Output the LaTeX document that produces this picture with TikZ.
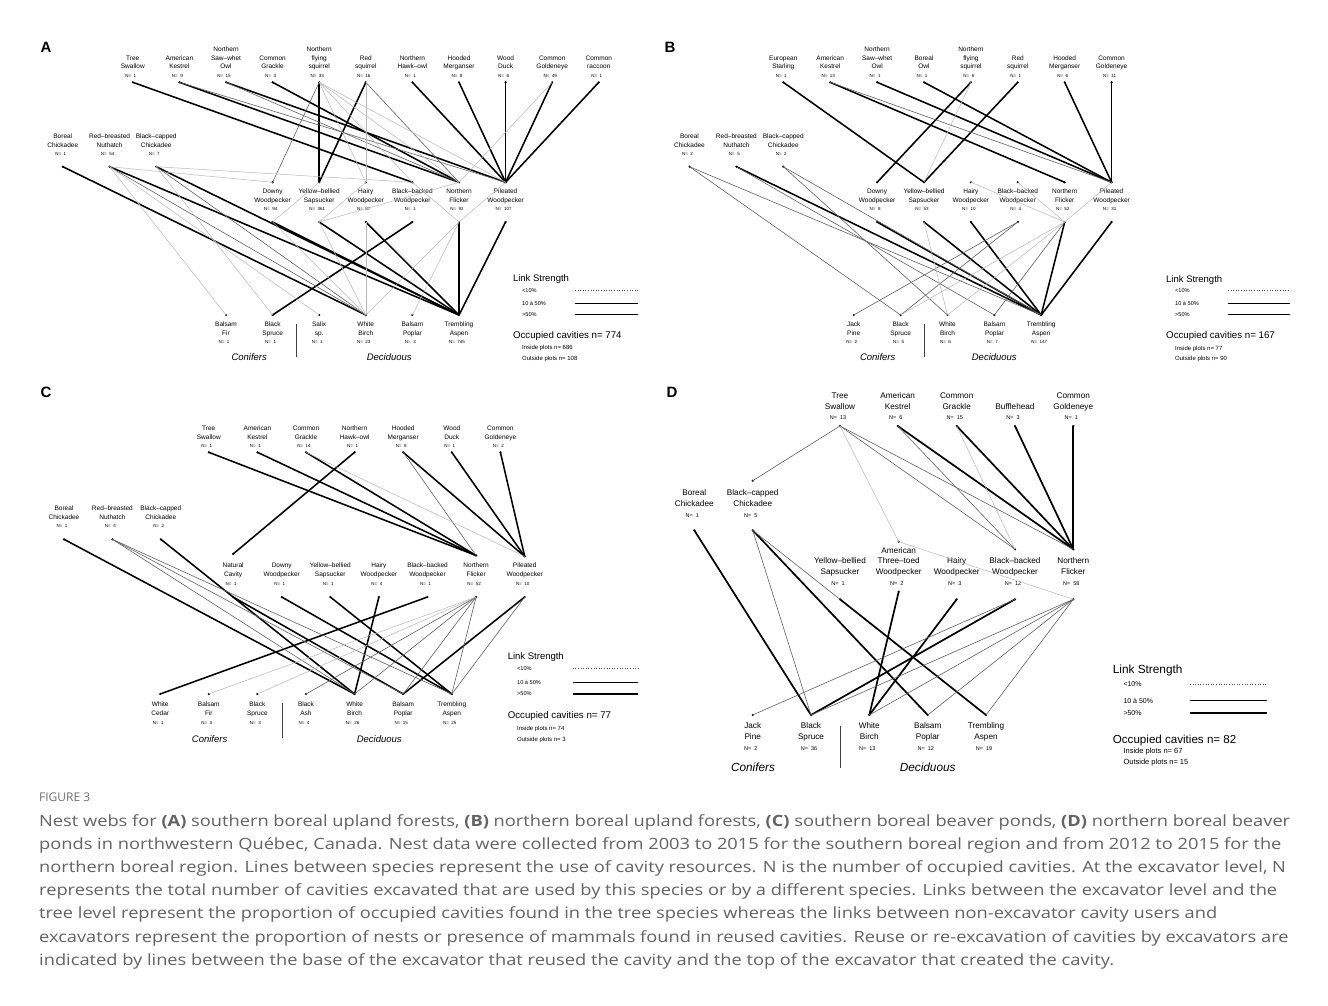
\documentclass[tikz,border=0pt]{standalone}
\usepackage{fontspec}
\setmainfont{Liberation Sans}
\newfontfamily\capfont{Open Sans}
\usepackage{graphicx}
\definecolor{capgray}{HTML}{636363}
\definecolor{figgray}{HTML}{707070}
\newcommand\labfont{\fontsize{6.5}{8.7}\selectfont}
\newcommand\nfont{\fontsize{4.5}{5}\selectfont}
\newcommand\capsize{\capfont\fontsize{15.5}{18}\selectfont}
\newcommand\stk[1]{\begin{tabular}[b]{@{}c@{}}#1\end{tabular}}
\newlength\cwid
\newcommand\capone{Nest webs for {\bfseries (A)} southern boreal upland forests, {\bfseries (B)} northern boreal upland forests, {\bfseries (C)} southern boreal beaver ponds, {\bfseries (D)} northern boreal beaver}
\newcommand\capline[1]{\scalebox{\capfac}[1]{#1}}
\newcommand\mkuser[7]{%
  \node[lbl] (#1-l) at (#2,#3) {\stk{#4}};
  \node[nl] (#1-n) at (#2-2,#5) {N=\ \ #6};
  \node[dot] (#1) at (#2,#7) {};}
\newcommand\mkexc[7]{%
  \node[lbl] (#1-l) at (#2,#3) {\stk{#4}};
  \node[nl] (#1-n) at (#2-2,#5) {N=\ \ #6};
  \node[dot] (#1-b) at (#2,#7) {};}
\newcommand\mktop[3]{\node[dot] (#1-t) at (#2,#3) {};}
\newcommand\mktree[7]{%
  \node[dot] (#1) at (#2,#3) {};
  \node[lbl] (#1-l) at (#2,#4) {\stk{#5}};
  \node[nl] (#1-n) at (#2-2,#6) {N=\ \ #7};}
\tikzset{
  lbl/.style={font=\labfont, anchor=base, inner sep=0pt},
  nl/.style={font=\nfont, anchor=base, inner sep=0pt},
  dot/.style={circle, fill=black, inner sep=0pt, minimum size=2.4pt},
  strong/.style={line width=1.55pt, black},
  mid/.style={line width=0.6pt, black!62},
  weak/.style={line width=0.5pt, black!28},
  lgweak/.style={line width=0.6pt, black!70, dotted},
  lgmid/.style={line width=0.7pt, black},
  lgstrong/.style={line width=1.5pt, black},
  plet/.style={font=\fontsize{15}{17}\selectfont\bfseries, inner sep=0pt},
  grp/.style={font=\fontsize{9.5}{11}\selectfont\itshape, inner sep=0pt},
  lgt/.style={font=\fontsize{9.5}{11}\selectfont, anchor=west, inner sep=0pt},
  lgc/.style={font=\fontsize{9.7}{11}\selectfont, anchor=west, inner sep=0pt},
  lgs/.style={font=\fontsize{5.6}{7}\selectfont, anchor=west, inner sep=0pt},
  lgp/.style={font=\fontsize{6}{7}\selectfont, anchor=west, inner sep=0pt},
  divl/.style={line width=0.6pt, black!75},
  capn/.style={font=\capsize, text=capgray, anchor=base west, inner sep=0pt},
  fign/.style={font=\capfont\fontsize{12}{14}\selectfont, text=figgray, anchor=base west, inner sep=0pt}
}
\begin{document}
\settowidth{\cwid}{\capsize\capone}%
\pgfmathsetmacro\capfac{1251pt/\cwid}%
\begin{tikzpicture}[x=1pt,y=-1pt]
\useasboundingbox (0,0) rectangle (1328,1006);
\fill[white] (0,0) rectangle (1328,1006);

% ================= Panel A =================
\node[plet] (pA) at (46,47) {A};
\mkuser{ats}{132.8}{69}{Tree\\Swallow}{77.3}{1}{82.3}
\mkuser{aak}{179.4}{69}{American\\Kestrel}{77.3}{9}{82.3}
\mkuser{anso}{226}{69}{Northern\\Saw–whet\\Owl}{77.3}{15}{82.3}
\mkuser{acg}{272.6}{69}{Common\\Grackle}{77.3}{3}{82.3}
\mkuser{anfs}{319.2}{69}{Northern\\flying\\squirrel}{77.3}{33}{82.3}
\mkuser{ars}{365.8}{69}{Red\\squirrel}{77.3}{16}{82.3}
\mkuser{anho}{412.4}{69}{Northern\\Hawk–owl}{77.3}{1}{82.3}
\mkuser{ahm}{459}{69}{Hooded\\Merganser}{77.3}{8}{82.3}
\mkuser{awd}{505.6}{69}{Wood\\Duck}{77.3}{6}{82.3}
\mkuser{acge}{552.2}{69}{Common\\Goldeneye}{77.3}{49}{82.3}
\mkuser{acr}{598.8}{69}{Common\\raccoon}{77.3}{1}{82.3}
\mkuser{abc}{62.8}{147.3}{Boreal\\Chickadee}{155.6}{1}{166.7}
\mkuser{arbn}{109.6}{147.3}{Red–breasted\\Nuthatch}{155.6}{54}{166.7}
\mkuser{abcc}{156.2}{147.3}{Black–capped\\Chickadee}{155.6}{7}{166.7}
\mkexc{adw}{272.6}{202.3}{Downy\\Woodpecker}{210.6}{94}{222}
\mkexc{aybs}{319.2}{202.3}{Yellow–bellied\\Sapsucker}{210.6}{361}{222}
\mkexc{ahw}{365.8}{202.3}{Hairy\\Woodpecker}{210.6}{87}{222}
\mkexc{abbw}{412.4}{202.3}{Black–backed\\Woodpecker}{210.6}{1}{222}
\mkexc{anf}{459}{202.3}{Northern\\Flicker}{210.6}{92}{222}
\mkexc{apw}{505.6}{202.3}{Pileated\\Woodpecker}{210.6}{107}{222}
\mktop{adw}{272.6}{182.3}\mktop{aybs}{319.2}{182.3}\mktop{ahw}{365.8}{182.3}
\mktop{abbw}{412.4}{182.3}\mktop{anf}{459}{182.3}\mktop{apw}{505.6}{182.3}
\mktree{abf}{226}{315}{335.3}{Balsam\\Fir}{343.6}{1}
\mktree{abs}{272.6}{315}{335.3}{Black\\Spruce}{343.6}{1}
\mktree{asx}{319.2}{315}{335.3}{Salix\\sp.}{343.6}{1}
\mktree{awb}{365.8}{315}{335.3}{White\\Birch}{343.6}{23}
\mktree{abp}{412.4}{315}{335.3}{Balsam\\Poplar}{343.6}{3}
\mktree{ata}{459}{315}{335.3}{Trembling\\Aspen}{343.6}{745}
\coordinate (adiv1) at (296,324); \coordinate (adiv2) at (296,357);
\draw[divl] (adiv1) -- (adiv2);
\node[grp] (acon) at (249.2,357.3) {Conifers};
\node[grp] (adec) at (389.2,357.3) {Deciduous};
\foreach \p/\q in {ats/abbw-t, aak/anf-t, anso/apw-t, acg/anf-t, anfs/aybs-t, ars/aybs-t, anho/apw-t, ahm/apw-t, awd/apw-t, acge/apw-t, acr/apw-t, abc/awb, arbn/ata, abcc/ata, adw-b/ata, aybs-b/ata, ahw-b/ata, abbw-b/abs, anf-b/ata, apw-b/ata}
  \draw[strong] (\p.center) -- (\q.center);
\foreach \p/\q in {aak/apw-t, anso/anf-t, ars/anf-t, arbn/awb, abcc/awb, anfs/adw-t}
  \draw[mid] (\p.center) -- (\q.center);
\foreach \p/\q in {anfs/ahw-t, anfs/anf-t, anfs/apw-t, anfs/abbw-t, ars/ahw-t, acge/anf-t, arbn/abf, arbn/asx, arbn/adw-t, abcc/abbw-t, abcc/abs, adw-b/awb, aybs-b/awb, ahw-b/awb, anf-b/awb, anf-b/abp, adw-b/aybs-t, aybs-b/ahw-t, aybs-b/anf-t, anf-b/apw-t, abbw-t/anf-b}
  \draw[weak] (\p.center) -- (\q.center);
% legend A
\node[lgt] (alt) at (512.8,279) {Link Strength};
\node[lgs] (al1) at (522,290.3) {<10\%};
\node[lgs] (al2) at (522,303.7) {10 à 50\%};
\node[lgs] (al3) at (522,314.7) {>50\%};
\coordinate (al1a) at (575,290.3); \coordinate (al1b) at (638,290.3);
\coordinate (al2a) at (575,303.7); \coordinate (al2b) at (638,303.7);
\coordinate (al3a) at (575,314.7); \coordinate (al3b) at (638,314.7);
\draw[lgweak] (al1a) -- (al1b); \draw[lgmid] (al2a) -- (al2b); \draw[lgstrong] (al3a) -- (al3b);
\node[lgc] (aoc) at (512.8,336.3) {Occupied cavities n= 774};
\node[lgp] (ain) at (522,347.7) {Inside plots n= 686};
\node[lgp] (aout) at (522,359) {Outside plots n= 108};

% ================= Panel B =================
\node[plet] (pB) at (670,47) {B};
\mkuser{bes}{783.3}{69}{European\\Starling}{77.3}{1}{82.3}
\mkuser{bak}{830.2}{69}{American\\Kestrel}{77.3}{13}{82.3}
\mkuser{bnso}{877.1}{69}{Northern\\Saw–whet\\Owl}{77.3}{1}{82.3}
\mkuser{bbo}{924}{69}{Boreal\\Owl}{77.3}{1}{82.3}
\mkuser{bnfs}{970.9}{69}{Northern\\flying\\squirrel}{77.3}{6}{82.3}
\mkuser{brs}{1017.8}{69}{Red\\squirrel}{77.3}{1}{82.3}
\mkuser{bhm}{1064.7}{69}{Hooded\\Merganser}{77.3}{6}{82.3}
\mkuser{bcge}{1111.6}{69}{Common\\Goldeneye}{77.3}{11}{82.3}
\mkuser{bbc}{689.5}{147.3}{Boreal\\Chickadee}{155.6}{2}{166.7}
\mkuser{brbn}{736.4}{147.3}{Red–breasted\\Nuthatch}{155.6}{5}{166.7}
\mkuser{bbcc}{783.3}{147.3}{Black–capped\\Chickadee}{155.6}{2}{166.7}
\mkexc{bdw}{877.1}{202.3}{Downy\\Woodpecker}{210.6}{8}{222}
\mkexc{bybs}{924}{202.3}{Yellow–bellied\\Sapsucker}{210.6}{53}{222}
\mkexc{bhw}{970.9}{202.3}{Hairy\\Woodpecker}{210.6}{10}{222}
\mkexc{bbbw}{1017.8}{202.3}{Black–backed\\Woodpecker}{210.6}{4}{222}
\mkexc{bnf}{1064.7}{202.3}{Northern\\Flicker}{210.6}{52}{222}
\mkexc{bpw}{1111.6}{202.3}{Pileated\\Woodpecker}{210.6}{31}{222}
\mktop{bdw}{877.1}{182.3}\mktop{bybs}{924}{182.3}\mktop{bhw}{970.9}{182.3}
\mktop{bbbw}{1017.8}{182.3}\mktop{bnf}{1064.7}{182.3}\mktop{bpw}{1111.6}{182.3}
\mktree{bjp}{853.7}{315}{335.3}{Jack\\Pine}{343.6}{2}
\mktree{bbs}{900.6}{315}{335.3}{Black\\Spruce}{343.6}{5}
\mktree{bwb}{947.5}{315}{335.3}{White\\Birch}{343.6}{6}
\mktree{bbp}{994.4}{315}{335.3}{Balsam\\Poplar}{343.6}{7}
\mktree{bta}{1041.2}{315}{335.3}{Trembling\\Aspen}{343.6}{147}
\coordinate (bdiv1) at (924.3,324); \coordinate (bdiv2) at (924.3,357);
\draw[divl] (bdiv1) -- (bdiv2);
\node[grp] (bcon) at (877.7,357.3) {Conifers};
\node[grp] (bdec) at (994.3,357.3) {Deciduous};
\foreach \p/\q in {bes/bybs-t, bak/bnf-t, bnso/bpw-t, bbo/bpw-t, bnfs/bdw-t, brs/bybs-t, bhm/bpw-t, bcge/bpw-t, brbn/bta, bdw-b/bta, bybs-b/bta, bhw-b/bta, bnf-b/bta, bpw-b/bta}
  \draw[strong] (\p.center) -- (\q.center);
\foreach \p/\q in {bak/bpw-t, bbc/bbs, bbc/bta, brbn/bbp, bbcc/bwb, bbcc/bta, bbbw-b/bjp, bbbw-b/bbs, bnf-b/bbp}
  \draw[mid] (\p.center) -- (\q.center);
\foreach \p/\q in {bnfs/bybs-t, bybs-b/bwb, bnf-b/bbs, bnf-b/bwb, bhw-t/bnf-b, bbbw-t/bnf-b, bnf-b/bpw-t}
  \draw[weak] (\p.center) -- (\q.center);
\node[lgt] (blt) at (1166,280) {Link Strength};
\node[lgs] (bl1) at (1175,290.7) {<10\%};
\node[lgs] (bl2) at (1175,303.7) {10 à 50\%};
\node[lgs] (bl3) at (1175,314.3) {>50\%};
\coordinate (bl1a) at (1228,290.7); \coordinate (bl1b) at (1290,290.7);
\coordinate (bl2a) at (1228,303.7); \coordinate (bl2b) at (1290,303.7);
\coordinate (bl3a) at (1228,314.3); \coordinate (bl3b) at (1290,314.3);
\draw[lgweak] (bl1a) -- (bl1b); \draw[lgmid] (bl2a) -- (bl2b); \draw[lgstrong] (bl3a) -- (bl3b);
\node[lgc] (boc) at (1166,336) {Occupied cavities n= 167};
\node[lgp] (bin) at (1175,349) {Inside plots n= 77};
\node[lgp] (bout) at (1175,359.3) {Outside plots n= 90};

% ================= Panel C =================
\node[plet] (pC) at (46,392.5) {C};
\mkuser{cts}{208.8}{439}{Tree\\Swallow}{447.3}{1}{452.3}
\mkuser{cak}{257.4}{439}{American\\Kestrel}{447.3}{1}{452.3}
\mkuser{ccg}{306}{439}{Common\\Grackle}{447.3}{14}{452.3}
\mkuser{cnho}{354.6}{439}{Northern\\Hawk–owl}{447.3}{1}{452.3}
\mkuser{chm}{403.2}{439}{Hooded\\Merganser}{447.3}{8}{452.3}
\mkuser{cwd}{451.8}{439}{Wood\\Duck}{447.3}{1}{452.3}
\mkuser{ccge}{500.4}{439}{Common\\Goldeneye}{447.3}{2}{452.3}
\mkuser{cbc}{64}{519.3}{Boreal\\Chickadee}{527.6}{1}{539.3}
\mkuser{crbn}{112.4}{519.3}{Red–breasted\\Nuthatch}{527.6}{4}{539.3}
\mkuser{cbcc}{160.8}{519.3}{Black–capped\\Chickadee}{527.6}{2}{539.3}
\mkexc{cnc}{233.1}{576.3}{Natural\\Cavity}{585}{1}{597}
\mkexc{cdw}{281.7}{576.3}{Downy\\Woodpecker}{585}{1}{597}
\mkexc{cybs}{330.3}{576.3}{Yellow–bellied\\Sapsucker}{585}{1}{597}
\mkexc{chw}{378.9}{576.3}{Hairy\\Woodpecker}{585}{4}{597}
\mkexc{cbbw}{427.5}{576.3}{Black–backed\\Woodpecker}{585}{1}{597}
\mkexc{cnf}{476.1}{576.3}{Northern\\Flicker}{585}{52}{597}
\mkexc{cpw}{524.7}{576.3}{Pileated\\Woodpecker}{585}{10}{597}
\mktop{cnc}{233.1}{554}\mktop{cnf}{476.1}{555.5}\mktop{cpw}{524.7}{556.5}
\mktree{cwc}{160.2}{694}{715}{White\\Cedar}{724}{1}
\mktree{cbf}{208.8}{694}{715}{Balsam\\Fir}{724}{3}
\mktree{cbs}{257.4}{694}{715}{Black\\Spruce}{724}{3}
\mktree{cba}{306}{694}{715}{Black\\Ash}{724}{4}
\mktree{cwb}{354.6}{694}{715}{White\\Birch}{724}{26}
\mktree{cbp}{403.2}{694}{715}{Balsam\\Poplar}{724}{15}
\mktree{cta}{451.8}{694}{715}{Trembling\\Aspen}{724}{25}
\coordinate (cdiv1) at (282,703); \coordinate (cdiv2) at (282,738);
\draw[divl] (cdiv1) -- (cdiv2);
\node[grp] (ccon) at (209.6,738.7) {Conifers};
\node[grp] (cdec) at (379.2,738.7) {Deciduous};
\foreach \p/\q in {cts/cnf-t, cak/cnf-t, ccg/cnf-t, cnho/cnc-t, chm/cpw-t, cwd/cpw-t, ccge/cpw-t, cbc/cwb, cbcc/cwb, cnc-b/cbp, cdw-b/cta, cybs-b/cta, chw-b/cwb, cbbw-b/cwc, cpw-b/cbp}
  \draw[strong] (\p.center) -- (\q.center);
\foreach \p/\q in {chm/cnf-t, crbn/cta, crbn/cbp, crbn/cwb, cnf-b/cwb, cnf-b/cbp, cnf-b/cta, cnf-b/cba, cpw-b/cta}
  \draw[mid] (\p.center) -- (\q.center);
\foreach \p/\q in {ccg/cpw-t, cnf-b/cbf, cnf-b/cbs}
  \draw[weak] (\p.center) -- (\q.center);
\node[lgt] (clt) at (507.6,656.7) {Link Strength};
\node[lgs] (cl1) at (517,668.3) {<10\%};
\node[lgs] (cl2) at (517,682.3) {10 à 50\%};
\node[lgs] (cl3) at (517,694) {>50\%};
\coordinate (cl1a) at (572.8,668.3); \coordinate (cl1b) at (638,668.3);
\coordinate (cl2a) at (572.8,682.3); \coordinate (cl2b) at (638,682.3);
\coordinate (cl3a) at (572.8,694); \coordinate (cl3b) at (638,694);
\draw[lgweak] (cl1a) -- (cl1b); \draw[lgmid] (cl2a) -- (cl2b); \draw[lgstrong] (cl3a) -- (cl3b);
\node[lgc] (coc) at (507.6,716) {Occupied cavities n= 77};
\node[lgp] (cin) at (517,728.7) {Inside plots n= 74};
\node[lgp] (cout) at (517,740) {Outside plots n= 3};

% ================= Panel D =================
\renewcommand\labfont{\fontsize{8.2}{10.8}\selectfont}
\renewcommand\nfont{\fontsize{5.5}{6}\selectfont}
\node[plet] (pD) at (672,392.5) {D};
\mkuser{dts}{840}{409.6}{Tree\\Swallow}{419.6}{13}{426}
\mkuser{dak}{897.7}{409.6}{American\\Kestrel}{419.6}{6}{426}
\mkuser{dcg}{956.7}{409.6}{Common\\Grackle}{419.6}{15}{426}
\mkuser{dbh}{1015}{409.6}{Bufflehead}{419.6}{3}{426}
\mkuser{dcge}{1073.3}{409.6}{Common\\Goldeneye}{419.6}{1}{426}
\mkuser{dbc}{694.3}{506.2}{Boreal\\Chickadee}{517.4}{1}{530.3}
\mkuser{dbcc}{752.7}{506.2}{Black–capped\\Chickadee}{517.4}{5}{530.3}
\mktop{dbcc}{752.7}{480.7}
\mkexc{dybs}{840}{574.6}{Yellow–bellied\\Sapsucker}{585.2}{1}{599.3}
\mkexc{datw}{898.7}{574.6}{American\\Three–toed\\Woodpecker}{585.2}{2}{591.7}
\mkexc{dhw}{956.7}{574.6}{Hairy\\Woodpecker}{585.2}{3}{599.3}
\mkexc{dbbw}{1015}{574.6}{Black–backed\\Woodpecker}{585.2}{12}{599.3}
\mkexc{dnf}{1073.3}{574.6}{Northern\\Flicker}{585.2}{58}{599.3}
\mktop{datw}{898.7}{541.7}\mktop{dbbw}{1015}{549.3}\mktop{dnf}{1073.3}{549.3}
\mktree{djp}{752.7}{715}{739.6}{Jack\\Pine}{750.2}{2}
\mktree{dbs}{811}{715}{739.6}{Black\\Spruce}{750.2}{36}
\mktree{dwb}{869.3}{715}{739.6}{White\\Birch}{750.2}{13}
\mktree{dbp}{927.7}{715}{739.6}{Balsam\\Poplar}{750.2}{12}
\mktree{dta}{986}{715}{739.6}{Trembling\\Aspen}{750.2}{19}
\coordinate (ddiv1) at (840.3,726); \coordinate (ddiv2) at (840.3,768);
\draw[divl] (ddiv1) -- (ddiv2);
\node[grp, font=\fontsize{11.8}{13}\selectfont\itshape] (dcon) at (753,767.5) {Conifers};
\node[grp, font=\fontsize{11.8}{13}\selectfont\itshape] (ddec) at (927.7,767.5) {Deciduous};
\foreach \p/\q in {dak/dnf-t, dcg/dnf-t, dbh/dnf-t, dcge/dnf-t, dbc/dbs, dbcc/dbp, dybs-b/dta, datw-b/dwb, dhw-b/dwb, dbbw-b/dbs}
  \draw[strong, line width=1.7pt] (\p.center) -- (\q.center);
\foreach \p/\q in {dts/dbcc-t, dts/dbbw-t, dts/dnf-t, dak/dbbw-t, dbcc/dbs, dbcc/dybs-b, dbbw-b/djp, dnf-b/dbs, dnf-b/dwb, dnf-b/dbp, dnf-b/dta}
  \draw[mid] (\p.center) -- (\q.center);
\foreach \p/\q in {dts/datw-t, dcg/dbbw-t, dnf-b/datw-t}
  \draw[weak] (\p.center) -- (\q.center);
\node[lgt, font=\fontsize{11.8}{13}\selectfont] (dlt) at (1112.7,670) {Link Strength};
\node[lgs, font=\fontsize{7}{8}\selectfont] (dl1) at (1123.3,684) {<10\%};
\node[lgs, font=\fontsize{7}{8}\selectfont] (dl2) at (1123.3,700.7) {10 à 50\%};
\node[lgs, font=\fontsize{7}{8}\selectfont] (dl3) at (1123.3,713.3) {>50\%};
\coordinate (dl1a) at (1190,684); \coordinate (dl1b) at (1266.7,684);
\coordinate (dl2a) at (1190,700.7); \coordinate (dl2b) at (1266.7,700.7);
\coordinate (dl3a) at (1190,713.3); \coordinate (dl3b) at (1266.7,713.3);
\draw[lgweak] (dl1a) -- (dl1b); \draw[lgmid, line width=0.9pt] (dl2a) -- (dl2b); \draw[lgstrong, line width=1.8pt] (dl3a) -- (dl3b);
\node[lgc, font=\fontsize{11.6}{13}\selectfont] (doc) at (1112.7,740) {Occupied cavities n= 82};
\node[lgp, font=\fontsize{7.5}{8}\selectfont] (din) at (1123.3,751.7) {Inside plots n= 67};
\node[lgp, font=\fontsize{7.5}{8}\selectfont] (dout) at (1123.3,762.7) {Outside plots n= 15};

% ================= Caption =================
\node[fign] (fig) at (39,801.5) {FIGURE 3};
\node[capn] (cap1) at (39,826) {\capline{\capone}};
\node[capn] (cap2) at (39,849.2) {\capline{ponds in northwestern Québec, Canada. Nest data were collected from 2003 to 2015 for the southern boreal region and from 2012 to 2015 for the}};
\node[capn] (cap3) at (39,872.4) {\capline{northern boreal region. Lines between species represent the use of cavity resources. N is the number of occupied cavities. At the excavator level, N}};
\node[capn] (cap4) at (39,895.6) {\capline{represents the total number of cavities excavated that are used by this species or by a different species. Links between the excavator level and the}};
\node[capn] (cap5) at (39,918.8) {\capline{tree level represent the proportion of occupied cavities found in the tree species whereas the links between non-excavator cavity users and}};
\node[capn] (cap6) at (39,942) {\capline{excavators represent the proportion of nests or presence of mammals found in reused cavities. Reuse or re-excavation of cavities by excavators are}};
\node[capn] (cap7) at (39,965.2) {\capline{indicated by lines between the base of the excavator that reused the cavity and the top of the excavator that created the cavity.}};
\end{tikzpicture}
\end{document}
